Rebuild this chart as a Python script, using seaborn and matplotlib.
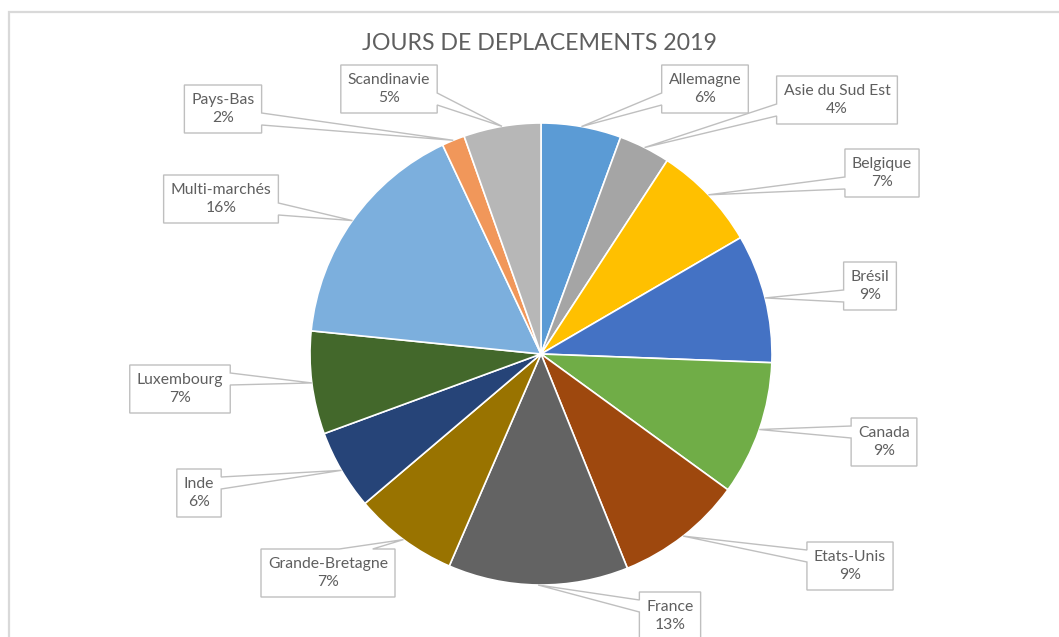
import matplotlib
matplotlib.use("Agg")
import numpy as np
import matplotlib.pyplot as plt
import seaborn as sns
from matplotlib.patches import Polygon, Rectangle

# Travel days per market, 2019 (share of total, %)
markets = ["Allemagne", "Asie du Sud Est", "Belgique", "Brésil", "Canada",
           "Etats-Unis", "France", "Grande-Bretagne", "Inde", "Luxembourg",
           "Multi-marchés", "Pays-Bas", "Scandinavie"]
shares = [5.6, 3.6, 7.4, 9.0, 9.4, 8.9, 12.6, 7.3, 5.6, 7.2, 16.4, 1.6, 5.4]
slice_colors = ["#5B9BD5", "#A5A5A5", "#FFC000", "#4472C4", "#70AD47",
                "#9E480E", "#636363", "#997300", "#264478", "#43682B",
                "#7CAFDD", "#F1975A", "#B7B7B7"]
title = "JOURS DE DEPLACEMENTS 2019"

# Callout box centres in pixel space (y measured from the top)
label_pos = {
    "Allemagne": (705, 89), "Asie du Sud Est": (837, 100),
    "Belgique": (882, 173), "Brésil": (870, 286), "Canada": (884, 442),
    "Etats-Unis": (850, 566), "France": (670, 616),
    "Grande-Bretagne": (328, 573), "Inde": (199, 493),
    "Luxembourg": (180, 389), "Multi-marchés": (221, 199),
    "Pays-Bas": (223, 109), "Scandinavie": (389, 89),
}

W, H = 1059, 637
CX, CY, R = 541, 354, 231
TEXT = "#5f5f5f"
EDGE = "#BFBFBF"

sns.set_theme(style="white")
plt.rcParams["font.family"] = ["Lato", "DejaVu Sans"]

fig = plt.figure(figsize=(W / 100, H / 100), dpi=100)
ax = fig.add_axes([0, 0, 1, 1])
palette = sns.color_palette(slice_colors)

wedges, _ = ax.pie(shares, colors=palette, startangle=90, counterclock=False,
                   center=(CX, H - CY), radius=R, frame=False,
                   wedgeprops=dict(edgecolor="white", linewidth=1.2))
ax.set_xlim(0, W)
ax.set_ylim(0, H)
ax.set_aspect("equal")
ax.axis("off")

# chart-area border
ax.add_patch(Rectangle((9, -20), W + 40, H - 12 + 20, fill=False,
                       edgecolor="#D9D9D9", linewidth=1.6, zorder=0))

ax.text(540, H - 44, title, ha="center", va="center", fontsize=16.7,
        color=TEXT, zorder=5)


def callout(l, t, r, b, tx, ty):
    """Rectangular callout outline (pixel coords, y down) with a wedge to (tx, ty)."""
    w, h = r - l, b - t
    hc, vc = (l + r) / 2, (t + b) / 2
    dx, dy = tx - hc, ty - vc
    dz = abs(dy) - abs(dx * h / w)
    x1 = l + w * (7 if dx > 0 else 2) / 12
    x2 = l + w * (10 if dx > 0 else 5) / 12
    y1 = t + h * (7 if dy > 0 else 2) / 12
    y2 = t + h * (10 if dy > 0 else 5) / 12
    pts = [(l, t)]
    if dz > 0 and dy < 0:
        pts += [(x1, t), (tx, ty), (x2, t)]
    pts += [(r, t)]
    if dz <= 0 and dx > 0:
        pts += [(r, y1), (tx, ty), (r, y2)]
    pts += [(r, b)]
    if dz > 0 and dy > 0:
        pts += [(x2, b), (tx, ty), (x1, b)]
    pts += [(l, b)]
    if dz <= 0 and dx < 0:
        pts += [(l, y2), (tx, ty), (l, y1)]
    return [(x, H - y) for x, y in pts]


total = sum(shares)
renderer = fig.canvas.get_renderer()
for name, val, wdg in zip(markets, shares, wedges):
    pct = int(round(val / total * 100))
    bx, by = label_pos[name]
    txt = ax.text(bx, H - by, f"{name}\n{pct}%", ha="center", va="center",
                  multialignment="center", fontsize=11.3, color=TEXT,
                  linespacing=1.3, zorder=5)
    tw = txt.get_window_extent(renderer).width
    bw, bh = tw + 14, 48
    mid = np.deg2rad((wdg.theta1 + wdg.theta2) / 2)
    tx = wdg.center[0] + wdg.r * np.cos(mid)
    ty = H - (wdg.center[1] + wdg.r * np.sin(mid))
    poly = callout(bx - bw / 2, by - bh / 2, bx + bw / 2, by + bh / 2, tx, ty)
    ax.add_patch(Polygon(poly, closed=True, facecolor="white",
                         edgecolor=EDGE, linewidth=1.0, zorder=4))

fig.savefig("out.png", dpi=100, facecolor="white")
